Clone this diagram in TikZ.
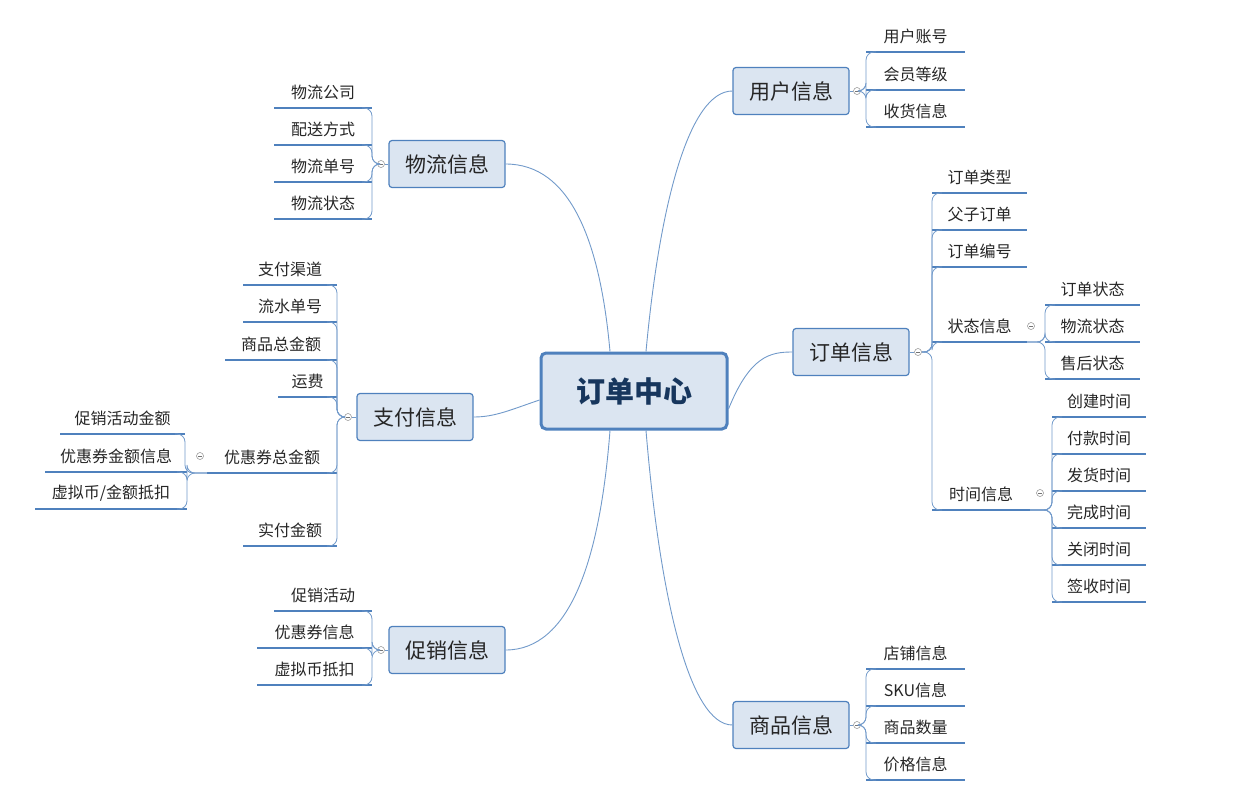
\documentclass[tikz,border=0pt]{standalone}
\usepackage{fontspec}
\setmainfont{Noto Sans CJK SC}
\usetikzlibrary{calc}
\definecolor{mmblue}{HTML}{4F81BD}
\definecolor{mmfill}{HTML}{DBE5F1}
\definecolor{mmtext}{HTML}{17365D}
\tikzset{
  centre/.style={draw=mmblue,line width=3pt,fill=mmfill,rounded corners=5pt,
    minimum width=186,minimum height=76,font=\fontsize{29}{32}\selectfont\bfseries,text=mmtext},
  topic/.style={draw=mmblue,line width=1.2pt,fill=mmfill,rounded corners=3pt,
    minimum width=116,minimum height=47,font=\fontsize{21}{24}\selectfont,text=black!85},
  leaftxt/.style={inner sep=1pt,font=\fontsize{16}{18}\selectfont,text=black!85},
  uline/.style={draw=mmblue,line width=1.5pt},
  conn/.style={draw=mmblue!80,line width=0.8pt,rounded corners=8pt},
  main/.style={draw=mmblue!80,line width=0.9pt},
  hub/.style={circle,draw=black!45,fill=white,line width=0.5pt,minimum size=7,inner sep=0pt,
    path picture={\draw[black!55] ([xshift=-2]path picture bounding box.center) -- ([xshift=2]path picture bounding box.center);}},
}
% leaf: name, left x, right x, underline y, text
\newcommand\leaf[5]{%
  \coordinate (#1-l) at (#2,#4);
  \coordinate (#1-r) at (#3,#4);
  \draw[uline] (#1-l) -- (#1-r);
  \node[leaftxt] (#1) at ({(#2+#3)/2},#4-16) {#5};}
% connectors from a hub
\newcommand\rconn[2]{\draw[conn] (#1.east) -- (#1.east -| #2-l) |- ($(#2-l)+(10,0)$);}
\newcommand\lconn[2]{\draw[conn] (#1.west) -- (#1.west -| #2-r) |- ($(#2-r)+(-10,0)$);}
\begin{document}
\begin{tikzpicture}[x=1pt,y=-1pt]
\useasboundingbox (0,0) rectangle (1239,800);

% centre and topics
\node[centre] (core) at (634,391) {订单中心};
\node[topic] (user) at (791,91) {用户信息};
\node[topic] (order) at (851,352) {订单信息};
\node[topic] (goods) at (791,725) {商品信息};
\node[topic] (ship) at (447,164) {物流信息};
\node[topic] (pay) at (415,417) {支付信息};
\node[topic] (promo) at (447,650) {促销信息};

% main branches
\draw[main] ([xshift=-24]core.north) .. controls (600,240) and (570,164) .. (ship.east);
\draw[main] ([xshift=12]core.north) .. controls (660,200) and (690,91) .. (user.west);
\draw[main] ([yshift=-18]core.east) .. controls (750,356) and (770,352) .. (order.west);
\draw[main] ([yshift=-9]core.west) .. controls (510,410) and (495,417) .. (pay.east);
\draw[main] ([xshift=-24]core.south) .. controls (600,560) and (570,650) .. (promo.east);
\draw[main] ([xshift=12]core.south) .. controls (660,600) and (690,725) .. (goods.west);

% user
\node[hub] (h-user) at (857,91) {};
\draw[main] (user.east) -- (h-user.west);
\leaf{u1}{866}{965}{52}{用户账号}
\leaf{u2}{866}{965}{90}{会员等级}
\leaf{u3}{866}{965}{127}{收货信息}
\foreach \c in {u1,u2,u3} {\rconn{h-user}{\c}}

% order
\node[hub] (h-order) at (918,352) {};
\draw[main] (order.east) -- (h-order.west);
\leaf{o1}{932}{1027}{193}{订单类型}
\leaf{o2}{932}{1027}{230}{父子订单}
\leaf{o3}{932}{1027}{267}{订单编号}
\leaf{o4}{932}{1027}{342}{状态信息}
\leaf{o5}{932}{1030}{510}{时间信息}
\foreach \c in {o1,o2,o3,o4,o5} {\rconn{h-order}{\c}}

% order state
\node[hub] (h-state) at (1031,326) {};
\coordinate (h-st) at (1033,342);
\leaf{s1}{1045}{1140}{305}{订单状态}
\leaf{s2}{1045}{1140}{342}{物流状态}
\leaf{s3}{1045}{1140}{379}{售后状态}
\foreach \c in {s1,s2,s3} {\draw[conn] (o4-r) -- (h-st -| \c-l) |- ($(\c-l)+(10,0)$);}

% order time
\node[hub] (h-time) at (1040,493) {};
\leaf{t1}{1052}{1146}{417}{创建时间}
\leaf{t2}{1052}{1146}{454}{付款时间}
\leaf{t3}{1052}{1146}{491}{发货时间}
\leaf{t4}{1052}{1146}{528}{完成时间}
\leaf{t5}{1052}{1146}{565}{关闭时间}
\leaf{t6}{1052}{1146}{602}{签收时间}
\foreach \c in {t1,t2,t3,t4,t5,t6} {\draw[conn] (o5-r) -- (o5-r -| \c-l) |- ($(\c-l)+(10,0)$);}

% goods
\node[hub] (h-goods) at (857,725) {};
\draw[main] (goods.east) -- (h-goods.west);
\leaf{g1}{866}{965}{669}{店铺信息}
\leaf{g2}{866}{965}{706}{SKU信息}
\leaf{g3}{866}{965}{743}{商品数量}
\leaf{g4}{866}{965}{780}{价格信息}
\foreach \c in {g1,g2,g3,g4} {\rconn{h-goods}{\c}}

% shipping
\node[hub] (h-ship) at (381,164) {};
\draw[main] (ship.west) -- (h-ship.east);
\leaf{w1}{274}{372}{108}{物流公司}
\leaf{w2}{274}{372}{145}{配送方式}
\leaf{w3}{274}{372}{182}{物流单号}
\leaf{w4}{274}{372}{219}{物流状态}
\foreach \c in {w1,w2,w3,w4} {\lconn{h-ship}{\c}}

% payment
\node[hub] (h-pay) at (348,417) {};
\draw[main] (pay.west) -- (h-pay.east);
\leaf{p1}{243}{337}{285}{支付渠道}
\leaf{p2}{243}{337}{322}{流水单号}
\leaf{p3}{225}{337}{360}{商品总金额}
\leaf{p4}{278}{337}{397}{运费}
\leaf{p5}{207}{337}{473}{优惠券总金额}
\leaf{p6}{243}{337}{546}{实付金额}
\foreach \c in {p1,p2,p3,p4,p5,p6} {\lconn{h-pay}{\c}}

% coupon total
\node[hub] (h-coupon) at (200,456) {};
\leaf{c1}{60}{185}{434}{促销活动金额}
\leaf{c2}{45}{187}{472}{优惠券金额信息}
\leaf{c3}{35}{187}{509}{虚拟币/金额抵扣}
\foreach \c in {c1,c2,c3} {\draw[conn] (p5-l) -- (p5-l -| \c-r) |- ($(\c-r)+(-10,0)$);}

% promotion
\node[hub] (h-promo) at (381,650) {};
\draw[main] (promo.west) -- (h-promo.east);
\leaf{m1}{274}{372}{611}{促销活动}
\leaf{m2}{257}{372}{648}{优惠券信息}
\leaf{m3}{257}{372}{685}{虚拟币抵扣}
\foreach \c in {m1,m2,m3} {\lconn{h-promo}{\c}}
\end{tikzpicture}
\end{document}
